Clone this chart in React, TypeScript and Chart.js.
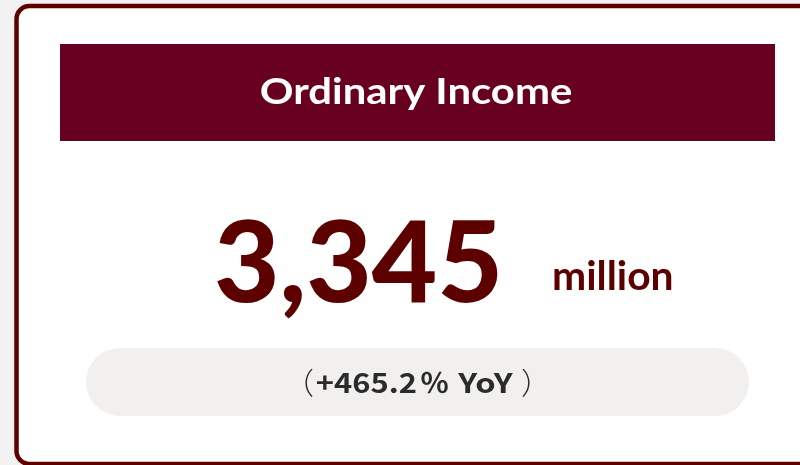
import React, { useEffect, useRef } from "react";
import { Chart, registerables } from "chart.js";

Chart.register(...registerables);

const titleLabels = ["Ordinary Income"];
const valueMillions = [3345];
const unitLabels = ["million"];
const yoyPercent = [465.2];

const fmtValue = (v: number) => v.toLocaleString("en-US");

// draw text so its ink spans [left, right] horizontally
function drawInk(ctx: any, text: string, left: number, right: number, baseline: number) {
  const m = ctx.measureText(text);
  const w = m.actualBoundingBoxLeft + m.actualBoundingBoxRight;
  const sx = w > 0 ? (right - left) / w : 1;
  ctx.save();
  ctx.textAlign = "left";
  ctx.translate(left, baseline);
  ctx.scale(sx, 1);
  ctx.fillText(text, m.actualBoundingBoxLeft, 0);
  ctx.restore();
}

const cardPlugin = {
  id: "kpiCard",
  beforeDraw(chart: any) {
    const ctx: any = chart.ctx;
    const W = chart.width;
    const H = chart.height;
    ctx.save();
    ctx.textBaseline = "alphabetic";
    ctx.fillStyle = "#f2f2f2";
    ctx.fillRect(0, 0, W, H);
    ctx.beginPath();
    ctx.roundRect(16.5, 6, W + 20, H - 6 - 1, 13);
    ctx.fillStyle = "#ffffff";
    ctx.fill();
    ctx.lineWidth = 4.5;
    ctx.strokeStyle = "#5e0000";
    ctx.stroke();
    // header
    ctx.fillStyle = "#680020";
    ctx.fillRect(60, 44, 715, 97);
    const title = chart.data.labels[0];
    ctx.fillStyle = "#ffffff";
    ctx.font = "bold 36px Lato";
    drawInk(ctx, title, 261, 572, 104);
    // big value
    const ds = chart.data.datasets[0];
    const val = fmtValue(ds.data[0]);
    ctx.fillStyle = "#5c0000";
    ctx.font = "900 112px Lato";
    drawInk(ctx, val, 217, 498, 302);
    ctx.font = "bold 40px Lato";
    drawInk(ctx, ds.unit, 554, 672, 290);
    // pill
    ctx.beginPath();
    ctx.roundRect(86, 348, 663, 68, 34);
    ctx.fillStyle = "#f1f0ee";
    ctx.fill();
    ctx.fillStyle = "#2b2b2b";
    const v = ds.yoy[0];
    const num = `${v >= 0 ? "+" : ""}${v.toFixed(1)}`;
    ctx.font = "300 30px 'Noto Sans CJK JP'";
    drawInk(ctx, "（", 305, 313, 394);
    drawInk(ctx, "）", 522, 530, 394);
    ctx.font = "bold 27px 'Noto Sans CJK JP'";
    drawInk(ctx, num, 317, 416, 393);
    ctx.font = "bold 27px 'Noto Sans CJK JP'";
    drawInk(ctx, "％", 421, 448, 393);
    ctx.font = "bold 27px 'Noto Sans CJK JP'";
    drawInk(ctx, "YoY", 457, 513, 393);
    ctx.restore();
  },
};

export default function App() {
  const ref = useRef<HTMLCanvasElement | null>(null);
  useEffect(() => {
    if (!ref.current) return;
    const chart = new Chart(ref.current, {
      type: "bar",
      data: {
        labels: titleLabels,
        datasets: [
          {
            label: titleLabels[0],
            data: valueMillions,
            unit: unitLabels[0],
            yoy: yoyPercent,
            backgroundColor: "rgba(0,0,0,0)",
          } as any,
        ],
      },
      options: {
        responsive: false,
        animation: false,
        events: [],
        layout: { padding: 0 },
        scales: { x: { display: false }, y: { display: false } },
        plugins: { legend: { display: false }, tooltip: { enabled: false }, title: { display: false } },
      },
      plugins: [cardPlugin],
    });
    return () => chart.destroy();
  }, []);
  return (
    <div style={{ position: "fixed", left: 0, top: 0, width: 800, height: 465 }}>
      <canvas ref={ref} width={800} height={465} />
    </div>
  );
}
